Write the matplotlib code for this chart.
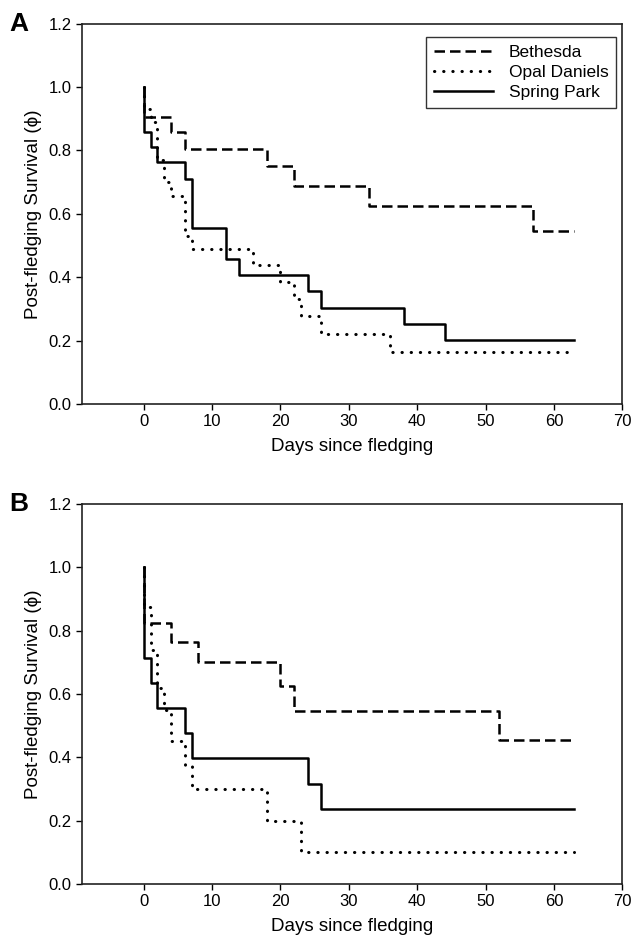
import matplotlib
matplotlib.use("Agg")
import matplotlib.pyplot as plt

plt.rcParams['font.family'] = ['Liberation Sans', 'DejaVu Sans']

# Panel A - Kaplan-Meier step curves (day, survival)
beth_a_days = [0, 0, 4, 6, 18, 22, 33, 57, 63]
beth_a_surv = [1.0, 0.905, 0.857, 0.806, 0.752, 0.689, 0.626, 0.547, 0.547]

opal_a_days = [0, 0, 1, 2, 3, 4, 6, 7, 16, 20, 22, 23, 26, 36, 63]
opal_a_surv = [1.0, 0.93, 0.89, 0.77, 0.70, 0.655, 0.53, 0.49, 0.44, 0.386, 0.33, 0.276, 0.22, 0.165, 0.165]

spring_a_days = [0, 0, 1, 2, 6, 7, 12, 14, 24, 26, 38, 44, 63]
spring_a_surv = [1.0, 0.857, 0.81, 0.762, 0.71, 0.556, 0.457, 0.406, 0.355, 0.304, 0.253, 0.203, 0.203]

# Panel B
beth_b_days = [0, 0, 4, 8, 20, 22, 52, 63]
beth_b_surv = [1.0, 0.824, 0.765, 0.70, 0.624, 0.545, 0.455, 0.455]

opal_b_days = [0, 0, 1, 2, 3, 4, 6, 7, 18, 23, 63]
opal_b_surv = [1.0, 0.875, 0.74, 0.62, 0.55, 0.45, 0.375, 0.30, 0.20, 0.10, 0.10]

spring_b_days = [0, 0, 1, 2, 6, 7, 24, 26, 63]
spring_b_surv = [1.0, 0.714, 0.635, 0.556, 0.476, 0.397, 0.317, 0.238, 0.238]

sites = ['Bethesda', 'Opal Daniels', 'Spring Park']
styles = [(0, (4.2, 2.0)), (0, (0.1, 2.9)), '-']

fig = plt.figure(figsize=(6.37, 9.46), dpi=100)
ax_a = fig.add_axes([0.129, 0.573, 0.848, 0.402])
ax_b = fig.add_axes([0.129, 0.0655, 0.848, 0.402])

panels = [
    (ax_a, 'A', [(beth_a_days, beth_a_surv), (opal_a_days, opal_a_surv), (spring_a_days, spring_a_surv)]),
    (ax_b, 'B', [(beth_b_days, beth_b_surv), (opal_b_days, opal_b_surv), (spring_b_days, spring_b_surv)]),
]

for ax, letter, curves in panels:
    for (d, s), name, ls in zip(curves, sites, styles):
        line, = ax.step(d, s, where='post', color='black', linestyle=ls, lw=1.8, label=name)
        if name == 'Opal Daniels':
            line.set_dash_capstyle('round')
            line.set_linewidth(2.2)
    ax.set_xlim(-9, 70)
    ax.set_ylim(0, 1.2)
    ax.set_xticks(range(0, 71, 10))
    ax.set_yticks([0.0, 0.2, 0.4, 0.6, 0.8, 1.0, 1.2])
    ax.set_yticklabels(['0.0', '0.2', '0.4', '0.6', '0.8', '1.0', '1.2'])
    ax.tick_params(direction='out', length=4, width=1, labelsize=12, top=False, right=False)
    for sp in ax.spines.values():
        sp.set_linewidth(1.2)
        sp.set_color('#222222')
    ax.set_xlabel('Days since fledging', fontsize=13.5, labelpad=6)
    ax.set_ylabel('Post-fledging Survival (\u03d5)', fontsize=13.5, labelpad=5)
    ax.text(-0.135, 1.0, letter, transform=ax.transAxes, fontsize=19, fontweight='bold',
            ha='left', va='center')

leg = ax_a.legend(loc='upper right', bbox_to_anchor=(0.995, 0.975), fontsize=12.5,
                  frameon=True, fancybox=False, handlelength=3.4, borderpad=0.45,
                  labelspacing=0.3, handletextpad=0.9, borderaxespad=0.2)
leg.get_frame().set_edgecolor('black')
leg.get_frame().set_linewidth(1.0)

fig.savefig('out.png', dpi=100)
